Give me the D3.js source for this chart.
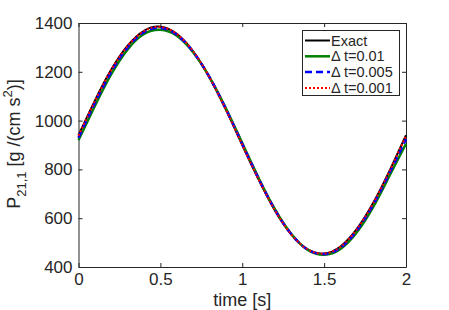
<!DOCTYPE html>
<html>
<head>
<meta charset="utf-8">
<script src="https://cdn.jsdelivr.net/npm/d3@7"></script>
<style>
body { margin: 0; background: #fff; }
text { font-family: "Liberation Sans", Arial, sans-serif; fill: #262626; }
.axis path, .axis line { stroke: #262626; }
</style>
</head>
<body>
<div id="graph1"></div>
<script>
// time samples [s]
var times = [0, 0.1, 0.2, 0.3, 0.4, 0.5, 0.6, 0.7, 0.8, 0.9, 1.0,
             1.1, 1.2, 1.3, 1.4, 1.5, 1.6, 1.7, 1.8, 1.9, 2.0];

// values
var exact   = [940, 1082, 1209, 1307, 1368, 1385, 1356, 1284, 1177, 1045, 900,
               758, 631, 533, 472, 455, 484, 556, 663, 795, 940];
var dt001   = [920, 1060, 1190, 1292, 1355, 1372, 1348, 1280, 1178, 1050, 908,
               765, 636, 535, 470, 450, 474, 542, 646, 775, 905];
var dt0005  = [930, 1072, 1200, 1300, 1362, 1380, 1352, 1282, 1178, 1048, 904,
               762, 634, 534, 471, 453, 479, 550, 656, 786, 924];
var dt0001  = [938, 1080, 1208, 1306, 1367, 1384, 1355, 1284, 1177, 1045, 901,
               759, 632, 533, 472, 455, 483, 555, 662, 794, 938];

var xTicks = [0, 0.5, 1, 1.5, 2];
var yTicks = [400, 600, 800, 1000, 1200, 1400];
var legendLabels = ["Exact", "\u0394 t=0.01", "\u0394 t=0.005", "\u0394 t=0.001"];

var margin = {top: 23, right: 43, bottom: 43, left: 78.5};
var width = 449 - margin.left - margin.right,
    height = 310 - margin.top - margin.bottom;

var xScale = d3.scaleLinear().domain([0, 2]).range([0, width]);
var yScale = d3.scaleLinear().domain([400, 1400]).range([height, 0]);

var svg = d3.select("#graph1").append("svg")
    .attr("width", 449)
    .attr("height", 310);

var g = svg.append("g")
    .attr("transform", "translate(" + margin.left + "," + margin.top + ")");

// axes, ticks inside
g.append("g")
    .attr("class", "x axis")
    .attr("transform", "translate(0," + height + ")")
    .call(d3.axisBottom(xScale).tickValues(xTicks).tickSizeInner(-4).tickSizeOuter(0).tickPadding(6)
        .tickFormat(d3.format("")))
    .selectAll("text").style("font-size", "17px");

g.append("g")
    .attr("class", "y axis")
    .call(d3.axisLeft(yScale).tickValues(yTicks).tickSizeInner(-4).tickSizeOuter(0).tickPadding(6)
        .tickFormat(d3.format("d")))
    .selectAll("text").style("font-size", "17px");

// mirrored top / right
g.append("g")
    .attr("class", "axis")
    .call(d3.axisTop(xScale).tickValues(xTicks).tickSizeInner(-4).tickSizeOuter(0).tickFormat(""));
g.append("g")
    .attr("class", "axis")
    .attr("transform", "translate(" + width + ",0)")
    .call(d3.axisRight(yScale).tickValues(yTicks).tickSizeInner(-4).tickSizeOuter(0).tickFormat(""));

g.selectAll(".axis .domain").attr("stroke-width", 1);

// labels
g.append("text")
    .attr("x", width / 2)
    .attr("y", height + 38.5)
    .attr("text-anchor", "middle")
    .style("font-size", "18px")
    .text("time [s]");

var yl = svg.append("text")
    .attr("transform", "translate(20," + 144 + ") rotate(-90)")
    .attr("text-anchor", "middle")
    .style("font-size", "18px");
yl.append("tspan").text("P");
yl.append("tspan").attr("dy", 6).style("font-size", "13px").text("21,1");
yl.append("tspan").attr("dy", -6).text(" [g /(cm s");
yl.append("tspan").attr("dy", -8).style("font-size", "13px").text("2");
yl.append("tspan").attr("dy", 8).text(")]");

// lines
var series = [
    {vals: exact,  color: "#000000", width: 2,   dash: null},
    {vals: dt001,  color: "#008000", width: 2.5, dash: null},
    {vals: dt0005, color: "#0000ff", width: 2.5, dash: "7,4"},
    {vals: dt0001, color: "#ff0000", width: 2,   dash: "2,2"}
];

var line = d3.line()
    .x(function(d, i) { return xScale(times[i]); })
    .y(function(d) { return yScale(d); })
    .curve(d3.curveNatural);

series.forEach(function(s) {
    g.append("path")
        .datum(s.vals)
        .attr("fill", "none")
        .attr("stroke", s.color)
        .attr("stroke-width", s.width)
        .attr("stroke-dasharray", s.dash)
        .attr("d", line);
});

// legend
var lg = svg.append("g");
lg.append("rect")
    .attr("x", 302.5).attr("y", 30.5)
    .attr("width", 97).attr("height", 65)
    .attr("fill", "#fff").attr("stroke", "#262626").attr("stroke-width", 1);

series.forEach(function(s, i) {
    var y = 40.5 + i * 15.8;
    lg.append("line")
        .attr("x1", 305).attr("x2", 330)
        .attr("y1", y).attr("y2", y)
        .attr("stroke", s.color)
        .attr("stroke-width", s.width)
        .attr("stroke-dasharray", s.dash);
    lg.append("text")
        .attr("x", 331).attr("y", y + 5)
        .style("font-size", "14.5px")
        .text(legendLabels[i]);
});
</script>
</body>
</html>
